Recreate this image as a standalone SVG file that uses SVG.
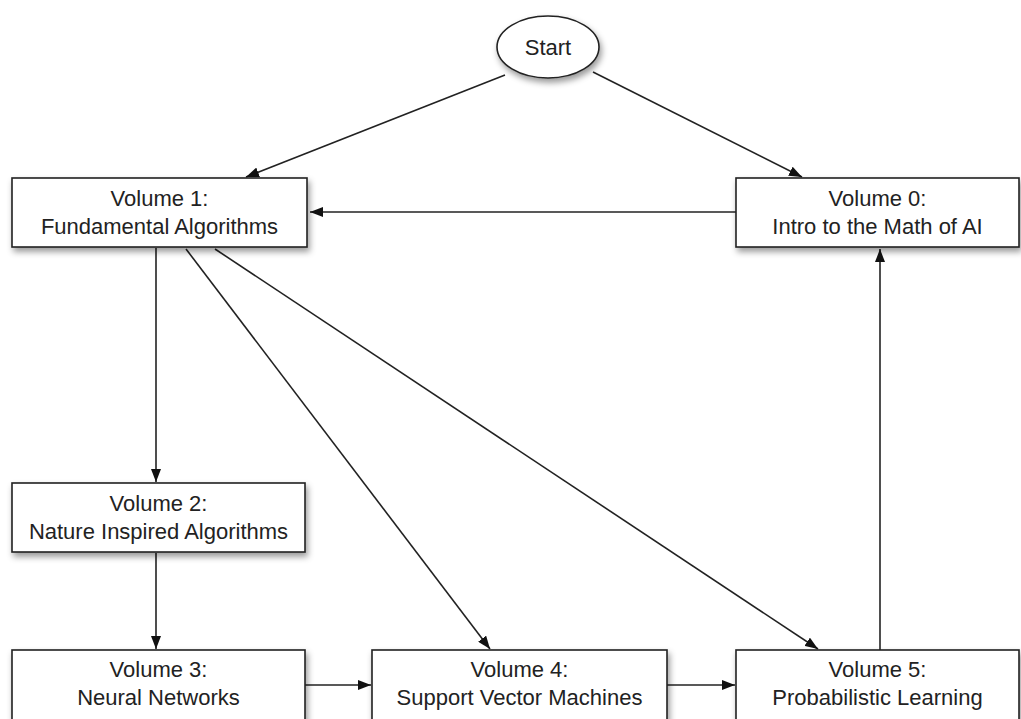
<svg xmlns="http://www.w3.org/2000/svg" width="1021" height="719" viewBox="0 0 1021 719">
<defs>
<filter id="sh" x="-10%" y="-20%" width="130%" height="160%">
<feDropShadow dx="2" dy="4" stdDeviation="3" flood-color="#000" flood-opacity="0.4"/>
</filter>
<marker id="ah" viewBox="0 0 13 10" refX="13" refY="5" markerWidth="13" markerHeight="10" markerUnits="userSpaceOnUse" orient="auto">
<path d="M0,0 L13,5 L0,10 Z" fill="#111"/>
</marker>
<style>
.box{fill:#fff;stroke:#222;stroke-width:1.6;filter:url(#sh)}
.t{font-family:"Liberation Sans",Arial,sans-serif;font-size:22px;fill:#222;text-anchor:middle}
.c{fill:none;stroke:#222;stroke-width:1.6;marker-end:url(#ah)}
</style>
</defs>
<rect width="1021" height="719" fill="#fff"/>
<g id="connectors">
<line class="c" x1="505" y1="75" x2="246" y2="177"/>
<line class="c" x1="593" y1="72" x2="802" y2="177"/>
<line class="c" x1="736" y1="212" x2="310" y2="212"/>
<line class="c" x1="156" y1="248" x2="156" y2="482"/>
<line class="c" x1="186" y1="249" x2="490" y2="649"/>
<line class="c" x1="215" y1="249" x2="818" y2="649"/>
<line class="c" x1="156" y1="553" x2="156" y2="649"/>
<line class="c" x1="305" y1="685" x2="371" y2="685"/>
<line class="c" x1="667" y1="685" x2="735" y2="685"/>
<line class="c" x1="880" y1="650" x2="880" y2="249"/>
</g>
<g id="start">
<ellipse class="box" cx="548" cy="47" rx="51" ry="31"/>
<text class="t" x="548" y="55">Start</text>
</g>
<g id="vol1">
<rect class="box" x="12" y="178" width="295" height="69"/>
<text class="t" x="159.5" y="206">Volume 1:</text>
<text class="t" x="159.5" y="234">Fundamental Algorithms</text>
</g>
<g id="vol0">
<rect class="box" x="736" y="178" width="283" height="69"/>
<text class="t" x="877.5" y="206">Volume 0:</text>
<text class="t" x="877.5" y="234">Intro to the Math of AI</text>
</g>
<g id="vol2">
<rect class="box" x="12" y="483" width="293" height="69"/>
<text class="t" x="158.5" y="511">Volume 2:</text>
<text class="t" x="158.5" y="539">Nature Inspired Algorithms</text>
</g>
<g id="vol3">
<rect class="box" x="12" y="650" width="293" height="80"/>
<text class="t" x="158.5" y="677">Volume 3:</text>
<text class="t" x="158.5" y="705">Neural Networks</text>
</g>
<g id="vol4">
<rect class="box" x="372" y="650" width="295" height="80"/>
<text class="t" x="519.5" y="677">Volume 4:</text>
<text class="t" x="519.5" y="705">Support Vector Machines</text>
</g>
<g id="vol5">
<rect class="box" x="736" y="650" width="283" height="80"/>
<text class="t" x="877.5" y="677">Volume 5:</text>
<text class="t" x="877.5" y="705">Probabilistic Learning</text>
</g>
</svg>
